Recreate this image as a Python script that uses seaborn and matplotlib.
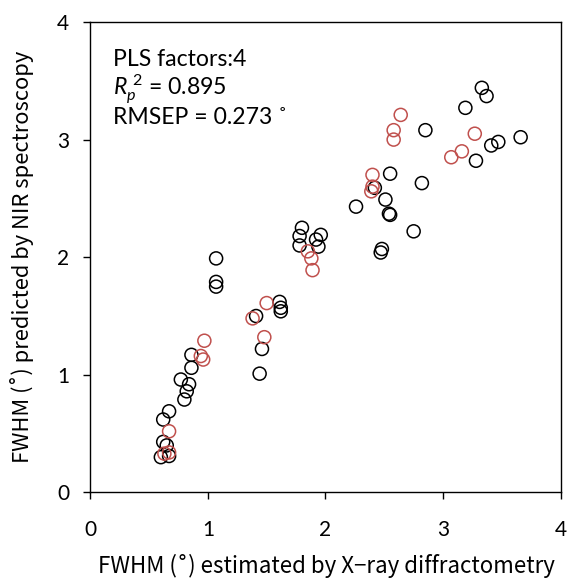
import matplotlib
matplotlib.use("Agg")
import matplotlib.pyplot as plt
import seaborn as sns
import pandas as pd

# Calibration set (black)
cal_x = [3.33, 3.37, 3.19, 2.85, 3.66, 3.47, 3.41, 3.28, 2.55, 2.82, 2.42, 2.51,
         2.26, 2.54, 2.55, 2.75, 2.48, 2.47, 1.80, 1.78, 1.78, 1.96, 1.92, 1.94,
         1.07, 1.07, 1.07, 1.61, 1.62, 1.62, 1.41, 1.46, 1.44, 0.86, 0.86, 0.77,
         0.84, 0.82, 0.80, 0.67, 0.62, 0.62, 0.65, 0.60, 0.67]
cal_y = [3.44, 3.37, 3.27, 3.08, 3.02, 2.98, 2.95, 2.82, 2.71, 2.63, 2.59, 2.49,
         2.43, 2.37, 2.36, 2.22, 2.07, 2.04, 2.25, 2.18, 2.10, 2.19, 2.15, 2.09,
         1.99, 1.79, 1.75, 1.62, 1.57, 1.54, 1.50, 1.22, 1.01, 1.17, 1.06, 0.96,
         0.92, 0.86, 0.79, 0.69, 0.62, 0.43, 0.40, 0.30, 0.31]

# Validation set (red)
val_x = [2.64, 2.58, 2.58, 3.27, 3.16, 3.07, 2.40, 2.40, 2.39, 1.85, 1.88, 1.89,
         1.50, 1.38, 1.48, 0.97, 0.94, 0.96, 0.67, 0.63, 0.67]
val_y = [3.21, 3.08, 3.00, 3.05, 2.90, 2.85, 2.70, 2.60, 2.56, 2.05, 1.99, 1.89,
         1.61, 1.48, 1.32, 1.29, 1.16, 1.13, 0.52, 0.33, 0.34]

ticks = [0, 1, 2, 3, 4]
tick_labels = ["0", "1", "2", "3", "4"]

sns.set_style("white")
plt.rcParams["font.family"] = ["Lato", "DejaVu Sans"]
plt.rcParams["text.color"] = "black"
plt.rcParams["mathtext.fontset"] = "custom"
plt.rcParams["mathtext.rm"] = "Lato"
plt.rcParams["mathtext.it"] = "Lato:italic"

fig = plt.figure(figsize=(5.68, 5.78), dpi=100)
ax = fig.add_axes([0.159, 0.148, 0.828, 0.814])

cal = pd.DataFrame({"x": cal_x, "y": cal_y})
val = pd.DataFrame({"x": val_x, "y": val_y})

sns.scatterplot(data=cal, x="x", y="y", ax=ax, marker="o", s=88,
                fc="none", ec="black", linewidth=1.1, legend=False)
sns.scatterplot(data=val, x="x", y="y", ax=ax, marker="o", s=88,
                fc="none", ec="#C0504D", linewidth=1.1, legend=False)

ax.set_xlim(0, 4)
ax.set_ylim(0, 4)
ax.set_xticks(ticks)
ax.set_xticklabels(tick_labels)
ax.set_yticks(ticks)
ax.set_yticklabels(tick_labels)
for sp in ax.spines.values():
    sp.set_visible(True)
    sp.set_color("black")
    sp.set_linewidth(1.0)
ax.tick_params(axis="both", direction="out", length=5.2, width=1.0,
               colors="black", labelsize=15, bottom=True, left=True)
ax.tick_params(axis="x", pad=14.5)
ax.tick_params(axis="y", pad=10)
ax.set_xlabel("")
ax.set_ylabel("")

lab_font = ["Noto Sans CJK JP", "DejaVu Sans"]
fig.text(0.574, 0.021, "FWHM (˚) estimated by X−ray diffractometry",
         fontsize=16.1, family=lab_font, ha="center", va="center")
fig.text(0.038, 0.555, "FWHM (˚) predicted by NIR spectroscopy",
         fontsize=15.8, family=lab_font, ha="center", va="center", rotation=90)

ax.text(0.048, 0.906, "PLS factors:4", transform=ax.transAxes, fontsize=16.6)
ax.text(0.048, 0.844, r"$\mathit{R}_{\mathit{p}}^{\ 2}$ = 0.895",
        transform=ax.transAxes, fontsize=16.6)
ax.text(0.048, 0.783, "RMSEP = 0.273 ˚", transform=ax.transAxes, fontsize=16.6)

fig.savefig("out.png", dpi=100)
